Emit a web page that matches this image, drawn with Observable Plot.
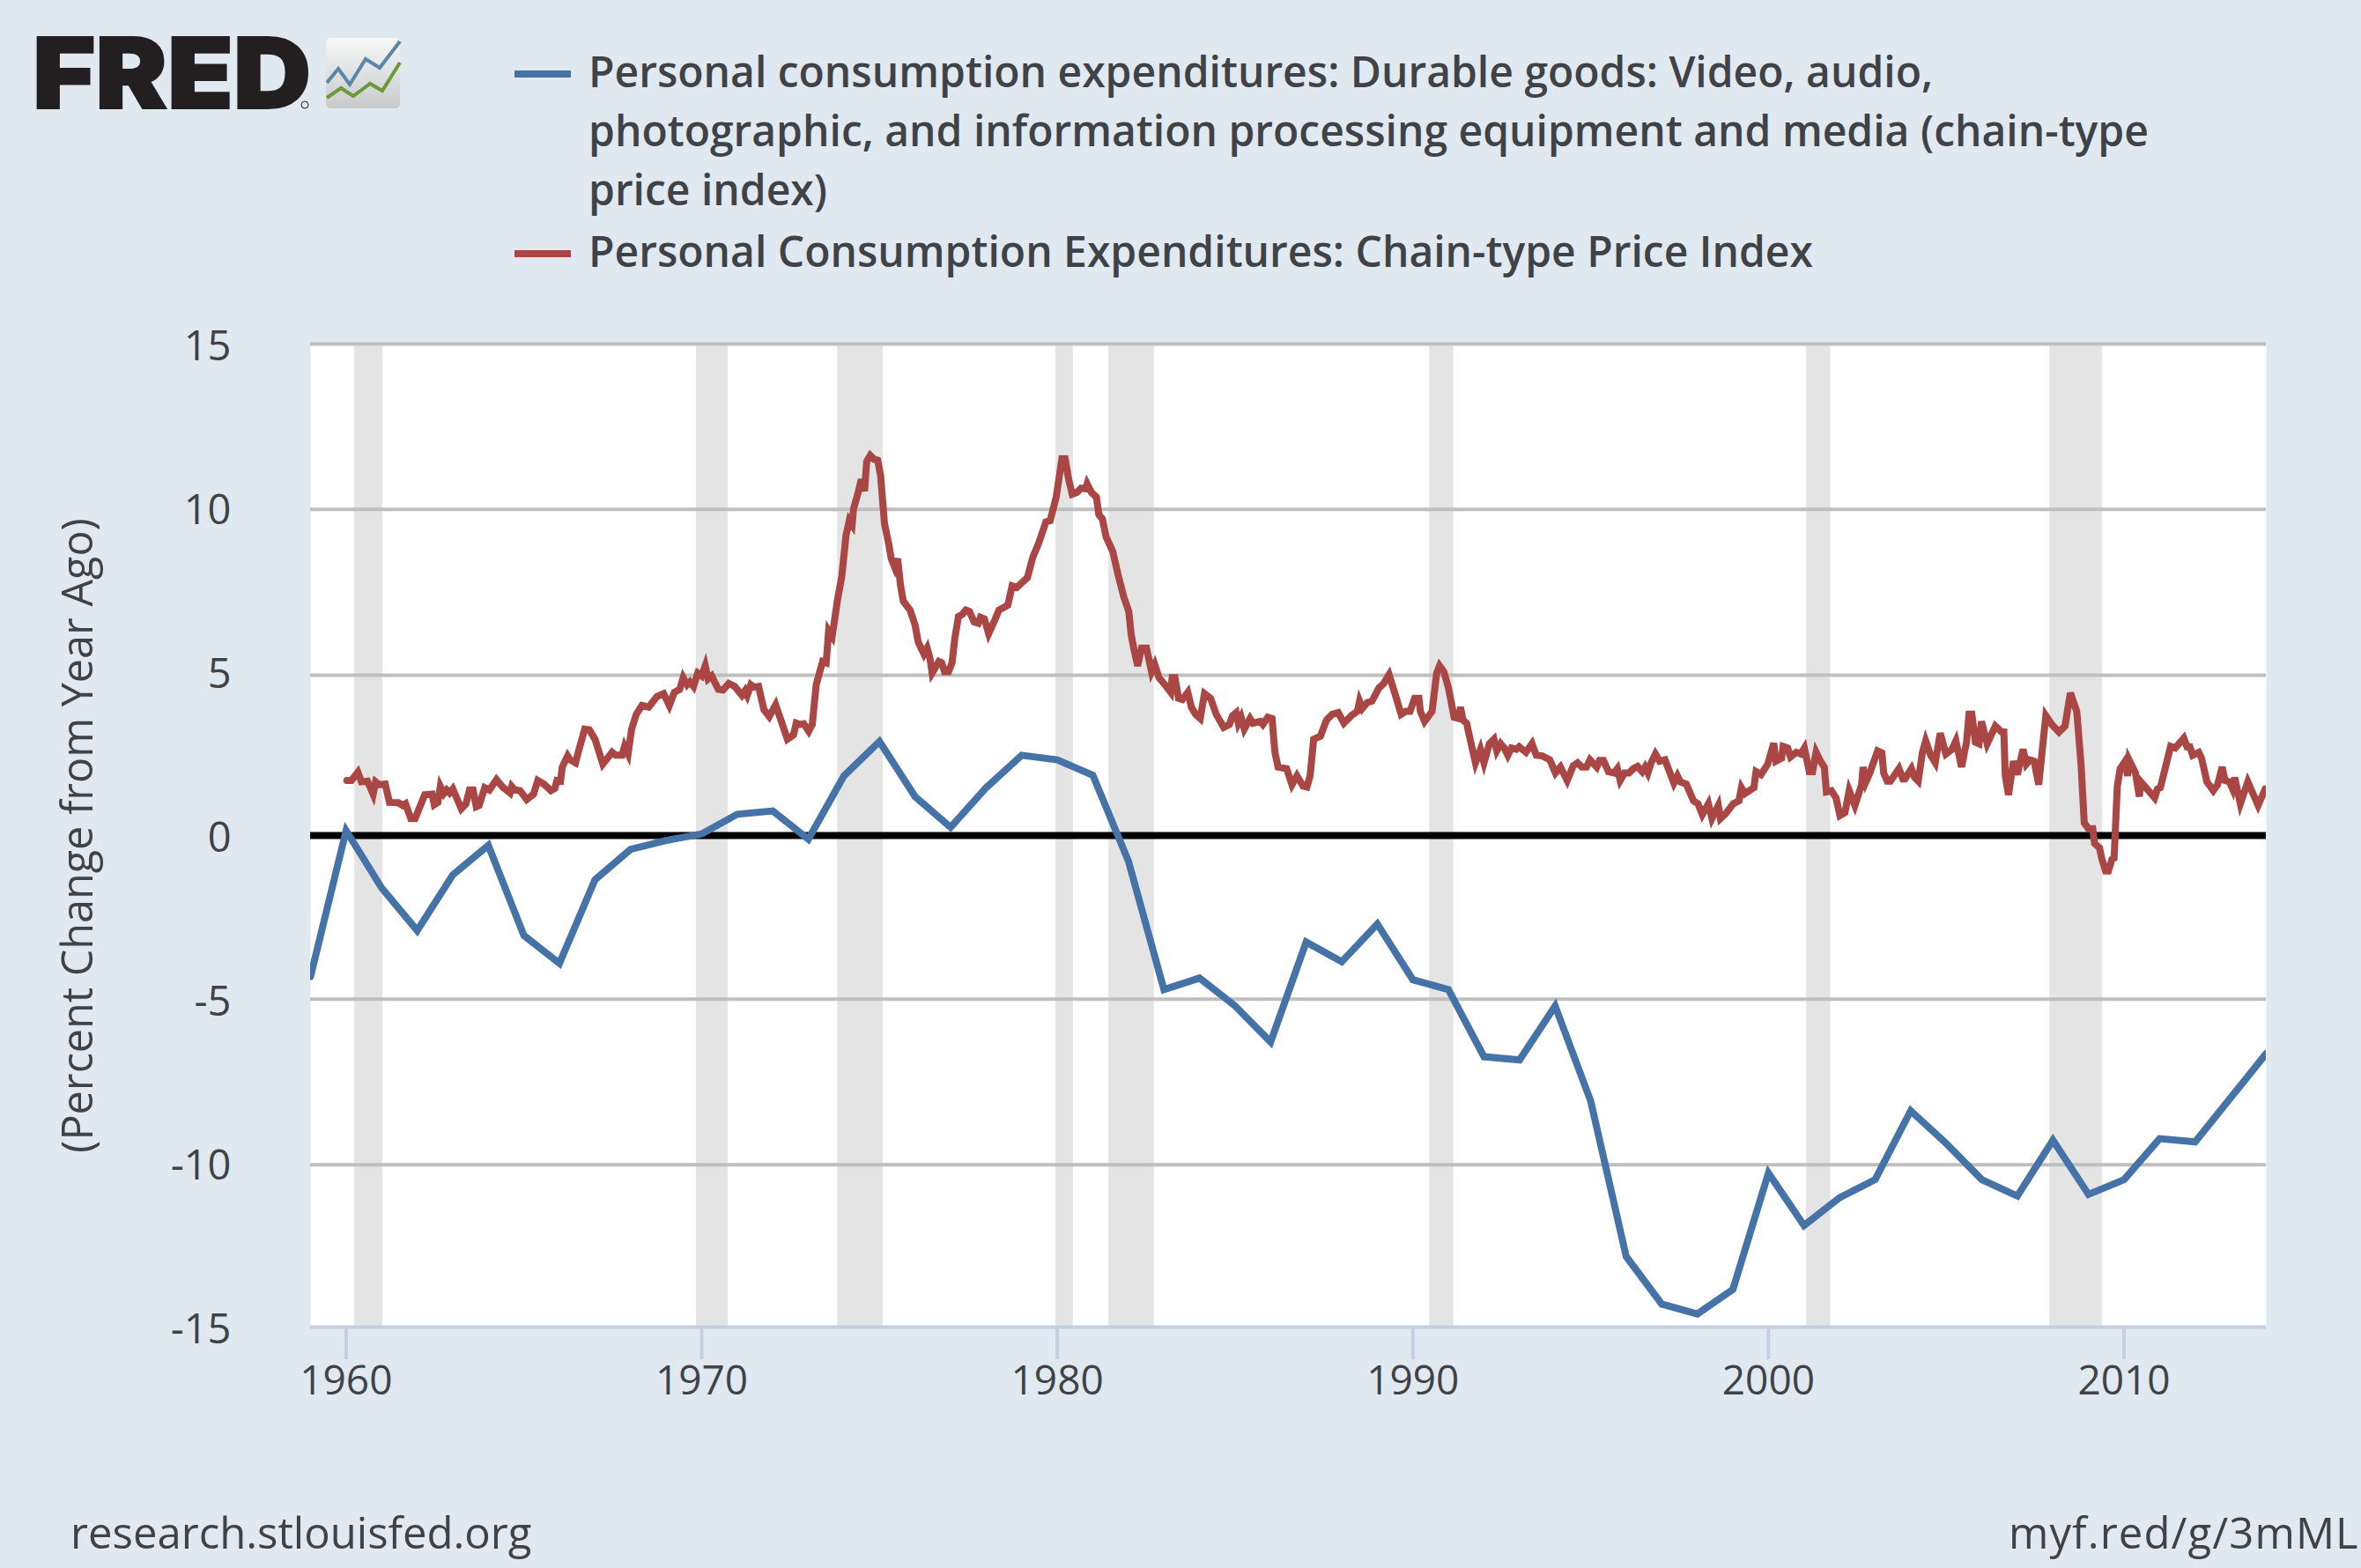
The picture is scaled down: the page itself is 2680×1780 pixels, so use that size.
<!DOCTYPE html>
<html>
<head>
<meta charset="utf-8">
<script src="https://cdn.jsdelivr.net/npm/d3@7"></script>
<script src="https://cdn.jsdelivr.net/npm/@observablehq/plot@0.6"></script>
<style>
html,body{margin:0;padding:0;background:#e1e9f0;width:2680px;height:1780px;overflow:hidden;font-family:"Open Sans",sans-serif;color:#3f4347}
#header{position:relative;width:2680px;height:340px}
#logo{position:absolute;left:0;top:0}
.leg{position:absolute;left:668px;font-size:48px;line-height:67px;font-weight:600;white-space:nowrap}
.sw{position:absolute;left:584px;width:64px;height:8px}
#chart svg{display:block}
#footer{position:relative;width:2680px;height:120px;overflow:hidden;font-size:49px}
#footer span{position:absolute;white-space:nowrap;top:46px;line-height:67px}
</style>
</head>
<body>
<div id="header">
<svg id="logo" width="480" height="180">
<text x="37" y="123" font-family="Inter" font-weight="900" font-size="112" fill="#231f20" stroke="#231f20" stroke-width="2" textLength="316" lengthAdjust="spacingAndGlyphs">FRED</text>
<circle cx="346" cy="119" r="4" fill="none" stroke="#231f20" stroke-width="1"/>
<defs><linearGradient id="ig" x1="0" y1="0" x2="0" y2="1"><stop offset="0" stop-color="#f6f7f7"/><stop offset="1" stop-color="#c9cacb"/></linearGradient></defs>
<rect x="370" y="43" width="84" height="80" rx="5" fill="url(#ig)"/>
<polyline points="371,94 384,78 397,96 415,67 431,77 454,47" fill="none" stroke="#5b87a8" stroke-width="4"/>
<polyline points="371,111 387,100 401,109 420,95 434,103 454,71" fill="none" stroke="#6a9a3a" stroke-width="4"/>
</svg>
<div class="sw" style="top:80px;background:#4572a7"></div>
<div class="leg" style="top:47px">Personal consumption expenditures: Durable goods: Video, audio,<br>photographic, and information processing equipment and media (chain-type<br>price index)</div>
<div class="sw" style="top:284px;background:#aa4643"></div>
<div class="leg" style="top:251px">Personal Consumption Expenditures: Chain-type Price Index</div>
</div>
<div id="chart"></div>
<div id="footer"><span style="left:80px">research.stlouisfed.org</span><span style="left:2280px;letter-spacing:1.1px">myf.red/g/3mML</span></div>
<script>
const yAxisLabel = "(Percent Change from Year Ago)";
const gridValues = [-10.05, -4.99, 4.89, 9.95, 15];
const yTicks = [-15, -10, -5, 0, 5, 10, 15];
const xTicks = [1960, 1970, 1980, 1990, 2000, 2010];

const recessionStart = [1960.24, 1969.85, 1973.82, 1979.96, 1981.45, 1990.47, 2001.07, 2007.91];
const recessionEnd   = [1961.03, 1970.74, 1975.10, 1980.45, 1982.73, 1991.15, 2001.75, 2009.39];

const blueYears = d3.range(1959, 2015);
const blueValues = [
 -4.3, 0.15, -1.6, -2.9, -1.2, -0.3, -3.05, -3.9, -1.35, -0.42, -0.15,
 0.05, 0.65, 0.75, -0.11, 1.82, 2.87, 1.19, 0.25, 1.46, 2.45,
 2.31, 1.84, -0.78, -4.7, -4.35, -5.2, -6.3, -3.25, -3.85, -2.7,
 -4.4, -4.7, -6.75, -6.85, -5.2, -8.1, -12.85, -14.3, -14.6, -13.85,
 -10.3, -11.9, -11.05, -10.5, -8.4, -9.4, -10.5, -11.0, -9.3, -10.95,
 -10.5, -9.25, -9.35, -8.0, -6.65
];

const redYears = [
 1960.02,1960.15,1960.33,1960.43,1960.60,1960.76,1960.83,1960.93,1961.10,1961.22,1961.47,1961.59,1961.67,1961.82,1961.94,
 1962.21,1962.42,1962.48,1962.58,1962.65,1962.75,1962.83,1962.91,1963.00,1963.24,1963.37,1963.47,1963.57,1963.66,1963.74,1963.90,
 1964.03,1964.23,1964.40,1964.61,1964.66,1964.75,1964.89,1965.08,1965.27,1965.39,1965.56,1965.76,1965.87,1965.93,
 1966.03,1966.08,1966.23,1966.30,1966.45,1966.55,1966.71,1966.84,1967.00,1967.22,1967.48,1967.58,1967.76,1967.83,1967.93,
 1968.03,1968.16,1968.32,1968.51,1968.74,1968.93,1969.09,1969.23,1969.38,1969.48,1969.59,1969.67,1969.77,1969.89,1970.00,1970.10,
 1970.18,1970.28,1970.47,1970.60,1970.76,1970.93,1971.13,1971.22,1971.28,1971.38,1971.46,1971.60,1971.75,1971.90,
 1972.08,1972.41,1972.58,1972.66,1972.76,1972.87,1973.01,1973.11,1973.22,1973.40,1973.50,1973.57,1973.67,1973.82,1973.94,
 1974.06,1974.15,1974.23,1974.27,1974.40,1974.49,1974.58,1974.64,1974.74,1974.85,1974.95,1975.03,1975.14,1975.26,1975.33,1975.43,1975.51,1975.59,1975.67,1975.86,
 1976.00,1976.09,1976.25,1976.34,1976.42,1976.48,1976.67,1976.75,1976.83,1976.94,1977.04,1977.12,1977.22,1977.33,1977.43,1977.53,1977.66,1977.78,1977.84,1977.95,
 1978.07,1978.24,1978.36,1978.61,1978.73,1978.86,1978.98,1979.16,1979.31,1979.47,1979.68,1979.80,1979.97,
 1980.13,1980.22,1980.32,1980.42,1980.55,1980.67,1980.80,1980.84,1980.96,1981.10,1981.17,1981.27,1981.37,1981.56,1981.70,1981.87,
 1982.01,1982.08,1982.16,1982.26,1982.37,1982.51,1982.65,1982.74,1982.86,1983.03,1983.19,1983.23,1983.31,1983.41,1983.52,1983.67,1983.77,1983.89,
 1984.02,1984.14,1984.31,1984.47,1984.68,1984.84,1984.93,1985.03,1985.09,1985.17,1985.26,1985.42,1985.50,1985.71,1985.78,1985.92,
 1986.04,1986.12,1986.21,1986.45,1986.60,1986.74,1986.91,1987.02,1987.11,1987.21,1987.40,1987.57,1987.73,1987.90,
 1988.06,1988.27,1988.44,1988.50,1988.58,1988.72,1988.85,1989.05,1989.18,1989.33,1989.51,1989.67,1989.80,1989.92,
 1990.05,1990.17,1990.21,1990.33,1990.54,1990.67,1990.75,1990.87,1991.00,1991.16,1991.29,1991.34,1991.41,1991.51,1991.62,1991.76,1991.90,
 1992.00,1992.15,1992.28,1992.36,1992.47,1992.57,1992.67,1992.77,1992.91,1992.99,1993.18,1993.35,1993.47,1993.64,1993.85,
 1994.01,1994.15,1994.34,1994.51,1994.63,1994.75,1994.88,1994.98,1995.17,1995.25,1995.36,1995.50,1995.66,1995.75,1995.83,1995.95,
 1996.08,1996.20,1996.32,1996.45,1996.53,1996.61,1996.70,1996.82,1996.94,1997.09,1997.34,1997.44,1997.52,1997.69,1997.89,
 1998.02,1998.14,1998.31,1998.41,1998.59,1998.65,1998.80,1999.01,1999.17,1999.24,1999.34,1999.59,1999.65,1999.79,1999.98,
 2000.15,2000.21,2000.37,2000.41,2000.54,2000.62,2000.78,2000.91,2001.01,2001.15,2001.24,2001.34,2001.46,2001.57,2001.63,2001.77,2001.90,
 2002.01,2002.15,2002.27,2002.43,2002.62,2002.66,2002.74,2002.85,2003.07,2003.19,2003.24,2003.34,2003.43,2003.67,2003.78,2003.84,
 2004.02,2004.11,2004.21,2004.33,2004.42,2004.56,2004.69,2004.83,2004.99,2005.16,2005.27,2005.43,2005.57,2005.64,2005.72,2005.82,2005.92,2005.99,
 2006.15,2006.38,2006.56,2006.62,2006.66,2006.75,2006.89,2007.00,2007.16,2007.25,2007.35,2007.47,2007.60,2007.80,2007.97,
 2008.17,2008.34,2008.49,2008.67,2008.79,2008.88,2009.00,2009.12,2009.17,2009.31,2009.37,2009.48,2009.56,2009.66,2009.72,2009.81,2009.89,
 2010.03,2010.10,2010.14,2010.32,2010.43,2010.47,2010.86,2010.94,2011.02,2011.31,2011.44,2011.68,2011.77,2011.85,2011.93,
 2012.10,2012.18,2012.33,2012.51,2012.63,2012.76,2012.84,2012.96,2013.05,2013.11,2013.27,2013.48,2013.77,2013.97,2014.05
];
const redValues = [
 1.68,1.68,1.93,1.64,1.66,1.26,1.64,1.55,1.57,1.01,1.0,.92,.97,.52,.52,
 1.24,1.26,.94,1.01,1.5,1.28,1.39,1.3,1.42,.82,.97,1.39,1.39,.88,.92,1.46,
 1.39,1.71,1.48,1.3,1.5,1.39,1.37,1.1,1.26,1.68,1.57,1.37,1.44,1.68,
 1.66,2.09,2.43,2.31,2.22,2.63,3.25,3.23,2.94,2.18,2.54,2.45,2.45,2.72,2.49,
 3.25,3.7,3.97,3.92,4.24,4.33,3.97,4.37,4.46,4.82,4.6,4.69,4.55,4.96,4.87,5.18,
 4.78,4.87,4.46,4.44,4.64,4.55,4.28,4.42,4.28,4.6,4.53,4.55,3.84,3.63,
 3.99,2.94,3.07,3.43,3.39,3.41,3.18,3.39,4.6,5.31,5.27,6.25,6.08,7.2,7.91,
 9.17,9.61,9.48,9.97,10.47,10.87,10.51,11.41,11.6,11.48,11.45,11.0,9.52,8.9,8.45,8.18,8.45,7.64,7.15,6.88,
 6.43,5.9,5.54,5.72,5.4,4.96,5.31,5.27,5.0,5.0,5.27,6.03,6.68,6.75,6.88,6.84,6.52,6.48,6.66,6.61,
 6.16,6.57,6.88,7.03,7.62,7.57,7.69,7.87,8.49,8.9,9.57,9.61,10.33,
 11.5,11.5,10.87,10.42,10.47,10.6,10.58,10.73,10.47,10.33,9.79,9.66,9.12,8.67,8.0,7.28,
 6.84,6.12,5.67,5.18,5.72,5.72,5.0,5.22,4.82,4.6,4.37,4.82,4.82,4.19,4.15,4.37,3.92,3.7,
 3.57,4.33,4.19,3.7,3.3,3.39,3.66,3.75,3.43,3.61,3.25,3.57,3.43,3.48,3.39,3.61,
 3.57,2.54,2.09,2.04,1.55,1.82,1.51,1.48,1.82,2.94,3.03,3.52,3.7,3.75,
 3.43,3.66,3.79,4.1,3.88,4.06,4.1,4.51,4.64,4.91,4.28,3.7,3.79,3.79,
 4.19,4.19,3.79,3.48,3.79,4.96,5.18,5.0,4.51,3.61,3.57,3.92,3.52,3.43,2.89,2.22,2.63,
 2.22,2.8,2.94,2.58,2.8,2.67,2.45,2.67,2.63,2.71,2.54,2.8,2.45,2.43,2.31,
 1.91,2.09,1.68,2.13,2.22,2.09,2.09,2.31,2.09,2.29,2.29,1.95,1.91,2.04,1.68,1.91,
 1.91,2.04,2.11,1.95,2.09,1.91,2.22,2.49,2.27,2.31,1.6,1.82,1.64,1.57,1.06,
 .97,.64,.97,.52,.92,.52,.67,.97,1.06,1.46,1.28,1.46,1.95,1.86,2.18,
 2.82,2.27,2.36,2.72,2.67,2.4,2.54,2.49,2.67,1.95,1.95,2.54,2.27,2.09,1.33,1.37,1.15,
 .61,.7,1.37,.92,1.55,2.09,1.64,1.91,2.58,2.52,1.91,1.66,1.66,2.04,1.73,1.73,
 2.04,1.77,1.66,2.54,2.89,2.45,2.22,3.12,2.49,2.63,2.89,2.09,2.85,3.7,3.7,2.85,2.8,3.48,
 2.8,3.34,3.16,3.16,1.82,1.24,2.27,1.86,2.63,2.18,2.31,2.27,1.55,3.66,3.39,
 3.16,3.34,4.35,3.79,2.18,.39,.21,.21,-.24,-.38,-.69,-1.08,-1.08,-.73,-.69,1.5,2.04,
 2.27,1.82,2.31,1.91,1.19,1.64,1.15,1.42,1.46,2.72,2.67,2.97,2.71,2.71,2.45,
 2.54,2.36,1.64,1.37,1.55,2.09,1.68,1.64,1.42,1.77,.97,1.64,.92,1.42,1.42
];

const recessions = recessionStart.map((s, i) => ({start: s, end: recessionEnd[i]}));
const blue = blueYears.map((x, i) => ({x, y: blueValues[i]}));
const red = redYears.map((x, i) => ({x, y: redValues[i]}));

const plot = Plot.plot({
  width: 2680,
  height: 1320,
  marginLeft: 352,
  marginRight: 108,
  marginTop: 50,
  marginBottom: 154,
  style: {background: "transparent", fontFamily: "'Open Sans',sans-serif", fontSize: "46px", color: "#3f4347"},
  x: {domain: [1959, 2014], type: "linear"},
  y: {domain: [-15, 15]},
  marks: [
    Plot.frame({fill: "#ffffff", stroke: "none"}),
    Plot.rectY(recessions, {x1: "start", x2: "end", y1: -15, y2: 15, fill: "#e4e4e4"}),
    Plot.ruleY(gridValues, {stroke: "#bfbfbf", strokeWidth: 4}),
    Plot.ruleY([-15], {stroke: "#c2d0e2", strokeWidth: 4}),
    Plot.axisX({ticks: xTicks, tickFormat: d3.format("d"), tickSize: 37, tickPadding: 7, stroke: "#c2d0e2", strokeWidth: 4, fill: "#3f4347", fontSize: 46, label: null}),
    Plot.axisY({ticks: yTicks, tickFormat: d => String(d), tickSize: 0, tickPadding: 90, dy: 3, fill: "#3f4347", fontSize: 47, label: null}),
    Plot.text([yAxisLabel], {frameAnchor: "left", textAnchor: "middle", rotate: -90, dx: -263, fill: "#3f4347", fontSize: 48.5}),
    Plot.ruleY([0], {stroke: "#000000", strokeWidth: 8}),
    Plot.line(blue, {x: "x", y: "y", stroke: "#4572a7", strokeWidth: 8, strokeLinejoin: "miter", strokeMiterlimit: 4, clip: "frame"}),
    Plot.line(red, {x: "x", y: "y", stroke: "#aa4643", strokeWidth: 8, strokeLinejoin: "miter", strokeMiterlimit: 4, clip: "frame"})
  ]
});
document.getElementById("chart").appendChild(plot);
</script>
</body>
</html>
